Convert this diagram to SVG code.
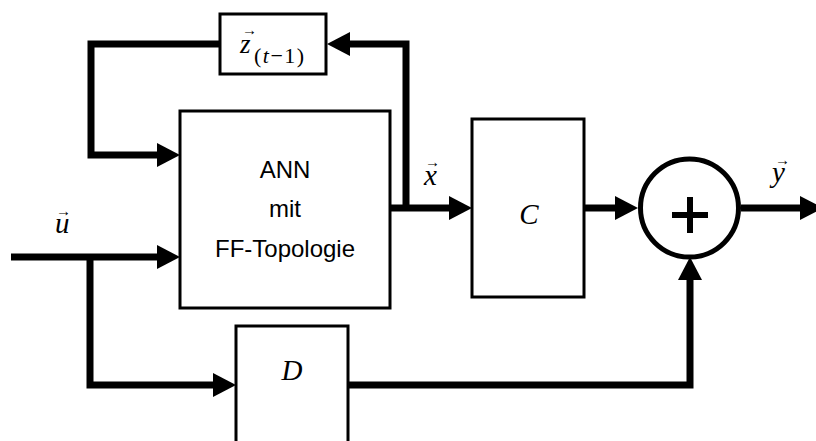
<svg xmlns="http://www.w3.org/2000/svg" width="816" height="441" viewBox="0 0 816 441">
  <defs>
    <marker id="ah" markerUnits="userSpaceOnUse" markerWidth="23" markerHeight="24" viewBox="0 0 23 24" refX="0" refY="12" orient="auto" overflow="visible">
      <path d="M0,0 L23,12 L0,24 Z" fill="#000"/>
    </marker>
  </defs>
  <style>
    .box { fill: #fff; stroke: #000; stroke-width: 3; }
    .wire { fill: none; stroke: #000; stroke-width: 7; stroke-linejoin: miter; stroke-linecap: butt; }
    .arr { marker-end: url(#ah); }
    .sans { font-family: "Liberation Sans", Arial, sans-serif; font-size: 24px; fill: #000; text-anchor: middle; }
    .math { font-family: "Liberation Serif", "Times New Roman", serif; font-style: italic; font-size: 29px; fill: #000; }
    .sub { font-style: normal; font-size: 22px; letter-spacing: 1.5px; }
    .vec { font-style: normal; font-size: 15px; }
  </style>
  <rect width="816" height="441" fill="#fff"/>

  <g id="connectors">
    <path class="wire arr" d="M406,211 V44 H350"/>
    <path class="wire arr" d="M220,44 H91 V155 H157"/>
    <path class="wire arr" d="M11,257 H157"/>
    <path class="wire arr" d="M90,257 V385 H213"/>
    <path class="wire arr" d="M390,208 H449"/>
    <path class="wire arr" d="M584,208 H615"/>
    <path class="wire arr" d="M741,208 H800"/>
    <path class="wire arr" d="M348,385 H690 V280"/>
  </g>

  <g id="delay">
    <rect class="box" x="220" y="14" width="106" height="60"/>
    <text class="math" x="240" y="53" style="font-size:27px">z<tspan class="vec" x="242" y="35">→</tspan><tspan class="sub" x="254" y="63">(<tspan font-style="italic">t</tspan>−1)</tspan></text>
  </g>

  <g id="ann">
    <rect class="box" x="180" y="111" width="210" height="197"/>
    <text class="sans" x="285" y="178">ANN</text>
    <text class="sans" x="285" y="217">mit</text>
    <text class="sans" x="285" y="257">FF-Topologie</text>
  </g>

  <g id="c">
    <rect class="box" x="472" y="119" width="112" height="178"/>
    <text class="math" x="529" y="224" text-anchor="middle">C</text>
  </g>

  <g id="d">
    <rect class="box" x="236" y="326" width="112" height="130"/>
    <text class="math" x="292" y="380" text-anchor="middle">D</text>
  </g>

  <g id="sum">
    <circle cx="689.5" cy="208" r="49" fill="#fff" stroke="#000" stroke-width="5"/>
    <path d="M672,215 H708 M690,197 V233" stroke="#000" stroke-width="6" fill="none"/>
  </g>

  <g id="labels">
    <text class="math" x="55" y="233">u<tspan class="vec" x="56" y="216">→</tspan></text>
    <text class="math" x="424" y="185">x<tspan class="vec" x="425" y="167">→</tspan></text>
    <text class="math" x="772" y="182">y<tspan class="vec" x="775" y="165">→</tspan></text>
  </g>
</svg>
